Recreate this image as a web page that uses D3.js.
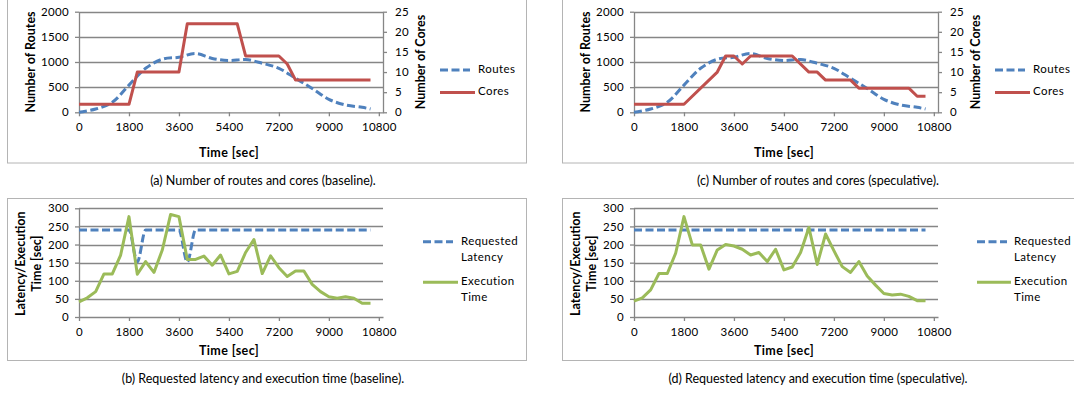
<!DOCTYPE html>
<html>
<head>
<meta charset="utf-8">
<script src="https://cdn.jsdelivr.net/npm/d3@7"></script>
<style>
  body { margin: 0; background: #fff; }
  svg { display: block; font-family: Lato, "Open Sans", sans-serif; }
</style>
</head>
<body>
<div id="chart"></div>
<script>
// x-axis ticks (seconds)
const timeTicks = [0, 1800, 3600, 5400, 7200, 9000, 10800];

// number of routes (same workload in both runs)
const routeSec = [0, 600, 1200, 1800, 2400, 3000, 3600, 4200, 4800, 5400, 6000, 6600, 7200, 7800, 8400, 9000, 9600, 10200, 10500];
const routeCount = [0, 65, 200, 540, 875, 1055, 1095, 1170, 1070, 1030, 1050, 975, 875, 675, 475, 258, 146, 99, 66];

// cores
const coresBaseSec = [0, 1800, 2100, 3600, 3900, 5700, 6000, 7200, 7500, 7800, 10500];
const coresBase = [2, 2, 10, 10, 22, 22, 14, 14, 12, 8, 8];
const coresSpecSec = [0, 1800, 3000, 3300, 3600, 3900, 4200, 5700, 6300, 6600, 6900, 7800, 8100, 9900, 10200, 10500];
const coresSpec = [2, 2, 10, 14, 14, 12, 14, 14, 10, 10, 8, 8, 6, 6, 4, 4];

// requested latency
const reqBaseSec = [0, 1800, 2100, 2400, 3600, 3900, 4200, 10500];
const reqBase = [240, 240, 152, 240, 240, 152, 240, 240];
const reqSpecSec = [0, 10500];
const reqSpec = [240, 240];

// execution time, sampled every 300 s
const execSec = d3.range(0, 10501, 300);
const execBase = [42, 53, 70, 119, 119, 171, 277, 118, 153, 123, 185, 283, 277, 159, 159, 168, 143, 171, 119, 126,
  178, 214, 120, 169, 136, 112, 127, 127, 90, 70, 56, 52, 56, 52, 38, 38];
const execSpec = [44, 53, 75, 120, 120, 176, 277, 199, 199, 132, 185, 200, 196, 187, 171, 178, 153, 187, 130, 138,
  178, 247, 145, 229, 183, 139, 123, 153, 113, 88, 65, 61, 63, 57, 45, 45];

const captions = [
  "(a) Number of routes and cores (baseline).",
  "(b) Requested latency and execution time (baseline).",
  "(c) Number of routes and cores (speculative).",
  "(d) Requested latency and execution time (speculative)."
];

const BLUE = "#4f81bd", RED = "#c0504d", GREEN = "#9bbb59", GRID = "#868686";
const TICK_FS = 11.5, TITLE_FS = 12.5;

const svg = d3.select("#chart").append("svg")
  .attr("width", 1074)
  .attr("height", 393);

const zip = (xs, ys) => xs.map((x, i) => [x, ys[i]]);

function styleAxis(sel) {
  sel.select(".domain").attr("stroke", GRID).attr("stroke-width", 1.3);
  sel.selectAll(".tick line").attr("stroke", GRID).attr("stroke-width", 1.3);
  sel.selectAll("text").attr("font-size", TICK_FS).attr("fill", "#000").attr("font-family", "Lato").attr("letter-spacing", 0.3);
}

function drawPanel({ ox, top, bottom, yMax, yStep, yLabel, yLabel2, right, series, legend, legendX, legendY, boxTop, boxBottom, xTitleY }) {
  const left = ox + 79;
  const plotRight = ox + 383;
  const x = d3.scaleLinear().domain([0, 10950]).range([left, plotRight]);
  const y = d3.scaleLinear().domain([0, yMax]).range([bottom, top]);

  // panel frame
  svg.append("rect")
    .attr("x", ox + 7.5).attr("y", boxTop)
    .attr("width", 519).attr("height", boxBottom - boxTop)
    .attr("fill", "none").attr("stroke", "#b4b4b4").attr("stroke-width", 1);

  const g = svg.append("g");

  // gridlines
  g.selectAll("line.grid")
    .data(d3.range(yStep, yMax + 1, yStep))
    .join("line")
    .attr("x1", left).attr("x2", plotRight)
    .attr("y1", d => Math.round(y(d)) + 0.5).attr("y2", d => Math.round(y(d)) + 0.5)
    .attr("stroke", GRID).attr("stroke-width", 1.3);

  // left axis
  g.append("g")
    .attr("transform", `translate(${left},0)`)
    .call(d3.axisLeft(y).tickValues(d3.range(0, yMax + 1, yStep)).tickFormat(d3.format("d"))
      .tickSize(4).tickPadding(6).tickSizeOuter(0))
    .call(styleAxis);

  // right axis (cores)
  if (right) {
    const y2 = d3.scaleLinear().domain([0, right.max]).range([bottom, top]);
    g.append("g")
      .attr("transform", `translate(${plotRight},0)`)
      .call(d3.axisRight(y2).tickValues(d3.range(0, right.max + 1, right.step)).tickFormat(d3.format("d"))
        .tickSize(4).tickPadding(8).tickSizeOuter(0))
      .call(styleAxis);
    svg.append("text")
      .attr("transform", `translate(${ox + 425},${(top + bottom) / 2}) rotate(-90)`)
      .attr("text-anchor", "middle")
      .attr("font-size", TITLE_FS).attr("font-weight", "bold")
      .text(right.label);
    series.forEach(s => { if (s.axis === "right") s.yScale = y2; });
  }

  // bottom axis
  g.append("g")
    .attr("transform", `translate(0,${bottom})`)
    .call(d3.axisBottom(x).tickValues(timeTicks).tickFormat(d3.format("d"))
      .tickSize(4).tickPadding(7).tickSizeOuter(0))
    .call(styleAxis);

  // axis titles
  svg.append("text")
    .attr("x", ox + 229).attr("y", xTitleY)
    .attr("text-anchor", "middle").attr("dominant-baseline", "middle")
    .attr("font-size", TITLE_FS).attr("font-weight", "bold").attr("letter-spacing", 0.4)
    .text("Time [sec]");

  const cy = (top + bottom) / 2;
  if (yLabel2) {
    svg.append("text")
      .attr("transform", `translate(${ox + 25},${cy + 1}) rotate(-90)`)
      .attr("text-anchor", "middle")
      .attr("font-size", TITLE_FS).attr("font-weight", "bold")
      .text(yLabel);
    svg.append("text")
      .attr("transform", `translate(${ox + 41},${cy + 1}) rotate(-90)`)
      .attr("text-anchor", "middle")
      .attr("font-size", TITLE_FS).attr("font-weight", "bold")
      .text(yLabel2);
  } else {
    svg.append("text")
      .attr("transform", `translate(${ox + 35},${cy}) rotate(-90)`)
      .attr("text-anchor", "middle")
      .attr("font-size", TITLE_FS).attr("font-weight", "bold")
      .text(yLabel);
  }

  // series
  series.forEach(s => {
    const ys = s.yScale || y;
    const line = d3.line()
      .x(d => x(d[0]))
      .y(d => ys(d[1]))
      .curve(s.curve || d3.curveLinear);
    g.append("path")
      .datum(s.data)
      .attr("fill", "none")
      .attr("stroke", s.color)
      .attr("stroke-width", 3)
      .attr("stroke-dasharray", s.dash ? "8,3.5" : null)
      .attr("stroke-linejoin", "round")
      .attr("d", line);
  });

  // legend
  const lg = svg.append("g").attr("transform", `translate(${ox + legendX},${legendY})`);
  legend.forEach(item => {
    const yy = item.dy;
    lg.append("line")
      .attr("x1", 0).attr("x2", item.dash ? 30 : item.len)
      .attr("y1", yy).attr("y2", yy)
      .attr("stroke", item.color).attr("stroke-width", 3)
      .attr("stroke-dasharray", item.dash ? "8,3.5" : null);
    item.text.forEach((t, j) => {
      lg.append("text")
        .attr("x", item.tx).attr("y", yy + j * 16)
        .attr("dominant-baseline", "middle")
        .attr("font-size", TICK_FS).attr("letter-spacing", 0.4)
        .text(t);
    });
  });
}

const routeData = zip(routeSec, routeCount);

// (a)
drawPanel({
  ox: 0, top: 11.7, bottom: 112.3, yMax: 2000, yStep: 500, yLabel: "Number of Routes",
  right: { max: 25, step: 5, label: "Number of Cores" },
  series: [
    { data: routeData, color: BLUE, dash: true, curve: d3.curveCatmullRom },
    { data: zip(coresBaseSec, coresBase), color: RED, axis: "right" }
  ],
  legend: [
    { text: ["Routes"], color: BLUE, dash: true, dy: 0, tx: 38 },
    { text: ["Cores"], color: RED, dy: 22.5, len: 35, tx: 38 }
  ],
  legendX: 440, legendY: 70, boxTop: -2, boxBottom: 163, xTitleY: 154
});

// (c)
drawPanel({
  ox: 555, top: 11.7, bottom: 112.3, yMax: 2000, yStep: 500, yLabel: "Number of Routes",
  right: { max: 25, step: 5, label: "Number of Cores" },
  series: [
    { data: routeData, color: BLUE, dash: true, curve: d3.curveCatmullRom },
    { data: zip(coresSpecSec, coresSpec), color: RED, axis: "right" }
  ],
  legend: [
    { text: ["Routes"], color: BLUE, dash: true, dy: 0, tx: 38 },
    { text: ["Cores"], color: RED, dy: 22.5, len: 35, tx: 38 }
  ],
  legendX: 440, legendY: 70, boxTop: -2, boxBottom: 163, xTitleY: 154
});

// (b)
drawPanel({
  ox: 0, top: 208.3, bottom: 317, yMax: 300, yStep: 50, yLabel: "Latency/Execution", yLabel2: "Time [sec]",
  series: [
    { data: zip(reqBaseSec, reqBase), color: BLUE, dash: true, curve: d3.curveMonotoneX },
    { data: zip(execSec, execBase), color: GREEN }
  ],
  legend: [
    { text: ["Requested", "Latency"], color: BLUE, dash: true, dy: 0, tx: 38 },
    { text: ["Execution", "Time"], color: GREEN, dy: 40.5, len: 35, tx: 38 }
  ],
  legendX: 423, legendY: 241.7, boxTop: 198.5, boxBottom: 360.5, xTitleY: 351.5
});

// (d)
drawPanel({
  ox: 555, top: 208.3, bottom: 317, yMax: 300, yStep: 50, yLabel: "Latency/Execution", yLabel2: "Time [sec]",
  series: [
    { data: zip(reqSpecSec, reqSpec), color: BLUE, dash: true },
    { data: zip(execSec, execSpec), color: GREEN }
  ],
  legend: [
    { text: ["Requested", "Latency"], color: BLUE, dash: true, dy: 0, tx: 37 },
    { text: ["Execution", "Time"], color: GREEN, dy: 40.5, len: 34, tx: 37 }
  ],
  legendX: 422, legendY: 241.7, boxTop: 198.5, boxBottom: 360.5, xTitleY: 351.5
});

// captions
[[263, 182, 0], [263, 380, 1], [818, 182, 2], [818, 380, 3]].forEach(([cx, cyy, i]) => {
  svg.append("text")
    .attr("x", cx).attr("y", cyy)
    .attr("text-anchor", "middle").attr("dominant-baseline", "middle")
    .attr("font-size", 12.5)
    .text(captions[i]);
});
</script>
</body>
</html>
